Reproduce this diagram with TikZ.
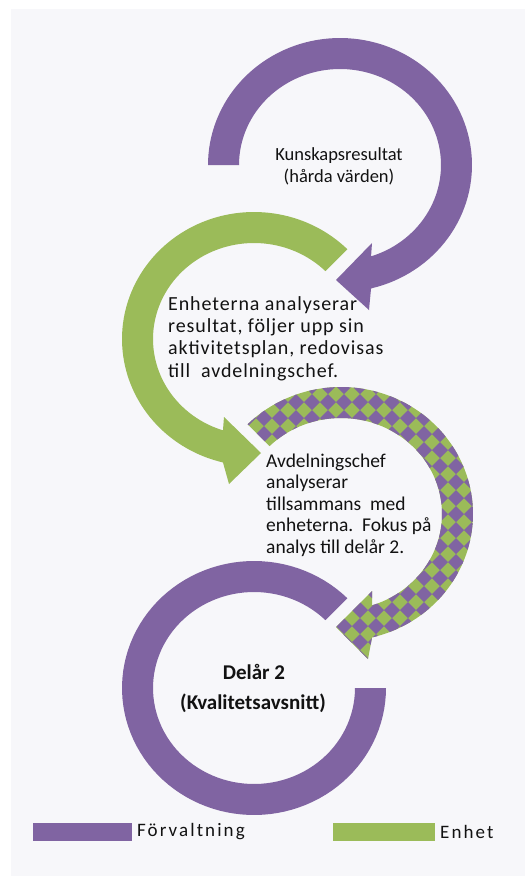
\documentclass[tikz,border=0pt]{standalone}
\usepackage{fontspec}
\setmainfont{Carlito}
\newfontfamily\lsA[LetterSpace=4.5]{Carlito}
\newfontfamily\lsB[LetterSpace=11]{Carlito}
\definecolor{purp}{RGB}{128,100,162}
\definecolor{grn}{RGB}{155,187,89}
\definecolor{bgc}{RGB}{247,247,250}
\definecolor{txt}{RGB}{18,18,18}
\tikzset{
  lbl/.style={inner sep=0pt, text=txt},
  keybox/.style={inner sep=0pt, minimum width=#1, minimum height=18pt, anchor=north west},
}
\begin{document}
\begin{tikzpicture}[x=1pt,y=-1pt]
\useasboundingbox (0,0) rectangle (525,876);
\fill[white] (0,0) rectangle (525,876);
\fill[bgc] (11,9) rectangle (525,876);

% ring 1 (purple, top)
\fill[purp] plot[domain=180:436.4,samples=100] ({340+132*cos(\x)},{165+127*sin(\x)})
  -- (369,310) -- (336,280) -- (372,243)
  -- plot[domain=-432.1:-180,samples=100] ({340+101*cos(\x)},{165-96*sin(\x)}) -- cycle;

% ring 2 (green)
\fill[grn] plot[domain=45:256.4,samples=100] ({254+132*cos(\x)},{339-127*sin(\x)})
  -- (229,484) -- (261,453) -- (224,417)
  -- plot[domain=-252.1:-45,samples=100] ({254+101*cos(\x)},{339+96*sin(\x)}) -- cycle;

% ring 3 (checkered)
\begin{scope}
\clip plot[domain=225:436.4,samples=100] ({341+132*cos(\x)},{514+127*sin(\x)})
  -- (368,659) -- (336,627) -- (372,591)
  -- plot[domain=-432.1:-225,samples=100] ({341+101*cos(\x)},{514-96*sin(\x)}) -- cycle;
\fill[grn] (200,370) rectangle (490,680);
\foreach \i in {0,...,18}{\foreach \j in {0,...,19}{
  \fill[purp] ({200+16*\i},{370+16*\j-8}) -- ++(8,8) -- ++(-8,8) -- ++(-8,-8) -- cycle;}}
\end{scope}

% ring 4 (purple, bottom)
\fill[purp] plot[domain=45:360,samples=100] ({254+132*cos(\x)},{688-127*sin(\x)})
  -- plot[domain=-360:-45,samples=100] ({254+101*cos(\x)},{688+96*sin(\x)}) -- cycle;

% texts
\node[lbl, align=center, font=\fontsize{18.5}{22}\selectfont] (t1) at (339,166) {Kunskapsresultat\\(hårda värden)};
\node[lbl, align=left, anchor=west, font=\lsA\fontsize{20}{22.3}\selectfont] (t2) at (168,338.5)
  {Enheterna analyserar\\resultat, följer upp sin\\aktivitetsplan, redovisas\\till\ \ avdelningschef.};
\node[lbl, align=left, anchor=west, font=\fontsize{19.5}{21.5}\selectfont] (t3) at (266,505)
  {Avdelningschef\\analyserar\\tillsammans\ \ med\\enheterna.\ \ Fokus på\\analys till delår 2.};
\node[lbl, font=\bfseries\fontsize{21}{24}\selectfont] (t4) at (254,672) {Delår 2};
\node[lbl, font=\bfseries\fontsize{21}{24}\selectfont] (t5) at (253,703) {(Kvalitetsavsnitt)};

% legend
\node[keybox=99pt, fill=purp] (k1) at (33,823) {};
\node[lbl, anchor=west, font=\lsB\fontsize{19}{22}\selectfont] (l1) at (137,832) {Förvaltning};
\node[keybox=102pt, fill=grn] (k2) at (333,823) {};
\node[lbl, anchor=west, font=\lsB\fontsize{19}{22}\selectfont] (l2) at (440,832) {Enhet};
\end{tikzpicture}
\end{document}
